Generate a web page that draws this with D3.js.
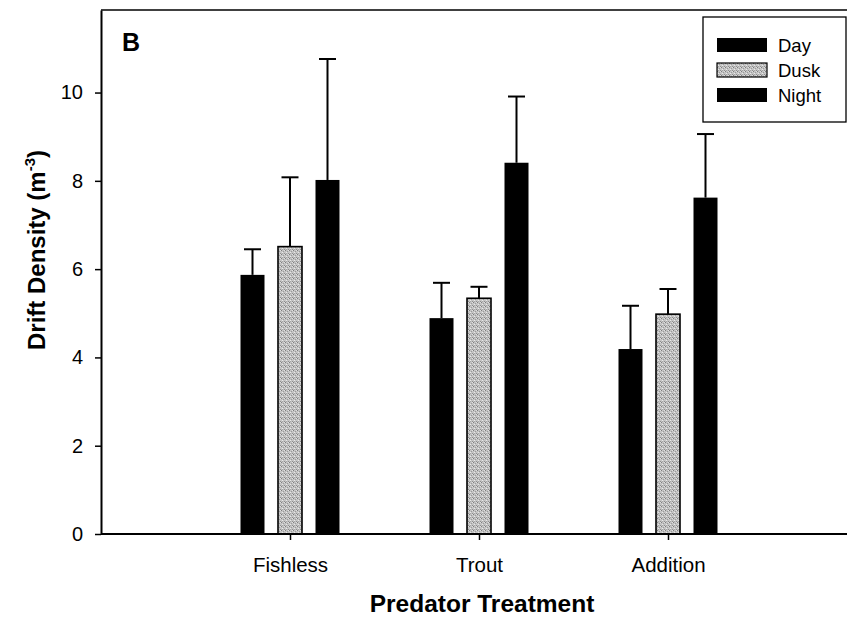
<!DOCTYPE html>
<html>
<head>
<meta charset="utf-8">
<script src="https://cdn.jsdelivr.net/npm/d3@7"></script>
<style>
    body { margin: 0; background: #fff; overflow: hidden; }
    svg { display: block; }
    text { font-family: "Liberation Sans", Arial, Helvetica, sans-serif; fill: #000; }
    .axis path, .axis line { stroke: #000; }
</style>
</head>
<body>
<div id="chart"></div>
<script>
// data
const treatments = ['Fishless', 'Trout', 'Addition'];
const periods = ['Day', 'Dusk', 'Night'];
const dayMean = [5.87, 4.89, 4.19];
const dayErr = [0.58, 0.80, 0.98];
const duskMean = [6.51, 5.34, 4.98];
const duskErr = [1.57, 0.26, 0.57];
const nightMean = [8.02, 8.41, 7.62];
const nightErr = [2.74, 1.50, 1.44];
const yTicks = [0, 2, 4, 6, 8, 10];

const dimensions = { width: 847, height: 626 };
const margin = { top: 10, right: -10, bottom: 92, left: 101 };

const graphWidth = dimensions.width - margin.left - margin.right;
const graphHeight = dimensions.height - margin.top - margin.bottom;

const svg = d3.select('#chart')
    .append('svg')
    .attr('width', dimensions.width)
    .attr('height', dimensions.height);

// dusk stipple
const defs = svg.append('defs');
const pat = defs.append('pattern')
    .attr('id', 'stipple')
    .attr('patternUnits', 'userSpaceOnUse')
    .attr('width', 4)
    .attr('height', 4);
pat.append('rect').attr('width', 4).attr('height', 4).attr('fill', '#c4c4c4');
[[0, 0, '#7e7e7e'], [2, 1, '#9a9a9a'], [1, 2, '#e8e8e8'], [3, 3, '#8e8e8e'], [3, 0, '#e0e0e0'], [1, 3, '#a6a6a6']].forEach(p => {
    pat.append('rect').attr('x', p[0]).attr('y', p[1]).attr('width', 1).attr('height', 1).attr('fill', p[2]);
});

const graph = svg.append('g')
    .attr('transform', `translate(${margin.left}, ${margin.top})`);

// scales
const x = d3.scaleLinear().domain([0, 4]).range([0, graphWidth]);
const y = d3.scaleLinear().domain([0, 11.87]).range([graphHeight, 0]);
const inner = d3.scaleBand().domain(periods).range([-49.5, 49.5]).paddingInner(0.36).paddingOuter(0);

const fills = { Day: '#000', Dusk: 'url(#stipple)', Night: '#000' };

const rows = [];
treatments.forEach((t, i) => {
    rows.push({ treatment: t, idx: i + 1, period: 'Day', mean: dayMean[i], err: dayErr[i] });
    rows.push({ treatment: t, idx: i + 1, period: 'Dusk', mean: duskMean[i], err: duskErr[i] });
    rows.push({ treatment: t, idx: i + 1, period: 'Night', mean: nightMean[i], err: nightErr[i] });
});

// frame top line (right side runs off the page)
graph.append('line')
    .attr('x1', 0).attr('x2', dimensions.width - margin.left)
    .attr('y1', 0).attr('y2', 0)
    .attr('stroke', '#000').attr('stroke-width', 1.6);

// error bars (upper only)
const errs = graph.selectAll('.err').data(rows).enter().append('g').attr('class', 'err');
errs.append('line')
    .attr('x1', d => x(d.idx) + inner(d.period) + inner.bandwidth() / 2)
    .attr('x2', d => x(d.idx) + inner(d.period) + inner.bandwidth() / 2)
    .attr('y1', d => y(d.mean))
    .attr('y2', d => y(d.mean + d.err))
    .attr('stroke', '#000').attr('stroke-width', 2);
errs.append('line')
    .attr('x1', d => x(d.idx) + inner(d.period) + inner.bandwidth() / 2 - 8.5)
    .attr('x2', d => x(d.idx) + inner(d.period) + inner.bandwidth() / 2 + 8.5)
    .attr('y1', d => y(d.mean + d.err))
    .attr('y2', d => y(d.mean + d.err))
    .attr('stroke', '#000').attr('stroke-width', 2);

// bars
graph.selectAll('.bar').data(rows).enter()
    .append('rect')
    .attr('class', 'bar')
    .attr('x', d => x(d.idx) + inner(d.period))
    .attr('y', d => y(d.mean))
    .attr('width', inner.bandwidth())
    .attr('height', d => graphHeight - y(d.mean))
    .attr('fill', d => fills[d.period])
    .attr('stroke', '#000')
    .attr('stroke-width', d => d.period === 'Dusk' ? 1.6 : 0);

// axes
const xAxis = d3.axisBottom(x)
    .tickValues([1, 2, 3])
    .tickFormat(d => treatments[d - 1])
    .tickSize(6)
    .tickPadding(17)
    .tickSizeOuter(0);
const yAxis = d3.axisLeft(y)
    .tickValues(yTicks)
    .tickSize(6)
    .tickPadding(12)
    .tickSizeOuter(0);

const xAxisGroup = graph.append('g')
    .attr('class', 'axis x-axis')
    .attr('transform', `translate(0, ${graphHeight})`)
    .call(xAxis);
xAxisGroup.select('.domain').attr('stroke-width', 2).attr('d', `M0,0H${dimensions.width - margin.left}`);
xAxisGroup.selectAll('.tick line').attr('stroke-width', 1.5);
xAxisGroup.selectAll('text').attr('font-size', 20.5).style('font-family', '"Liberation Sans", Arial, sans-serif');

const yAxisGroup = graph.append('g')
    .attr('class', 'axis y-axis')
    .call(yAxis);
yAxisGroup.select('.domain').attr('stroke-width', 2);
yAxisGroup.selectAll('.tick line').attr('stroke-width', 1.5);
yAxisGroup.selectAll('text').attr('font-size', 20).style('font-family', '"Liberation Sans", Arial, sans-serif');

// axis titles
svg.append('text')
    .attr('x', margin.left + x(2) + 3)
    .attr('y', 612)
    .attr('text-anchor', 'middle')
    .attr('font-size', 24.5)
    .attr('font-weight', 'bold')
    .text('Predator Treatment');

const yTitle = svg.append('text')
    .attr('transform', 'translate(45, 250) rotate(-90)')
    .attr('text-anchor', 'middle')
    .attr('font-size', 24)
    .attr('font-weight', 'bold');
yTitle.append('tspan').text('Drift Density (m');
yTitle.append('tspan').attr('font-size', 15).attr('dy', -10).text('-3');
yTitle.append('tspan').attr('dy', 10).text(')');

// panel letter
svg.append('text')
    .attr('x', 122)
    .attr('y', 51)
    .attr('font-size', 25)
    .attr('font-weight', 'bold')
    .text('B');

// legend
const legend = svg.append('g').attr('transform', 'translate(703, 17)');
legend.append('rect')
    .attr('width', 143).attr('height', 105)
    .attr('fill', '#fff').attr('stroke', '#000').attr('stroke-width', 1.3);
periods.forEach((p, i) => {
    const row = legend.append('g').attr('transform', `translate(14, ${21 + i * 25})`);
    row.append('rect')
        .attr('width', 50).attr('height', 14)
        .attr('fill', fills[p])
        .attr('stroke', '#000').attr('stroke-width', p === 'Dusk' ? 1.2 : 0);
    row.append('text')
        .attr('x', 61).attr('y', 14)
        .attr('font-size', 18.5)
        .text(p);
});
</script>
</body>
</html>
